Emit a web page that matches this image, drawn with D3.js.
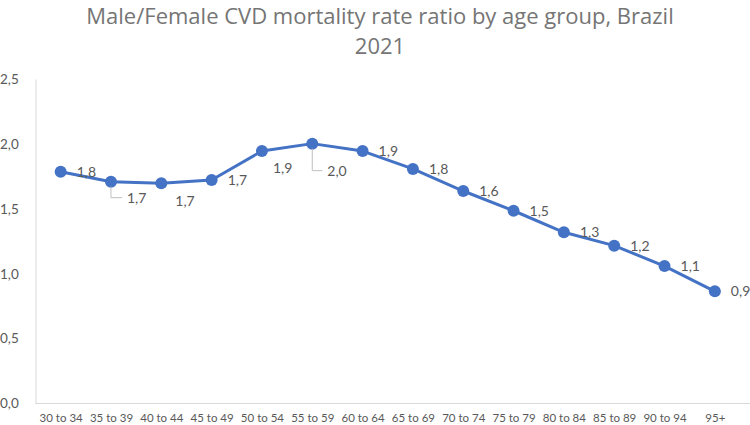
<!DOCTYPE html>
<html><head><meta charset="utf-8">
<script src="https://cdn.jsdelivr.net/npm/d3@7"></script>
<style>body{margin:0;background:#fff;} svg{display:block;}</style>
</head><body>
<svg id="chart" width="750" height="425"></svg>
<script>
const categories = ["30 to 34","35 to 39","40 to 44","45 to 49","50 to 54","55 to 59","60 to 64","65 to 69","70 to 74","75 to 79","80 to 84","85 to 89","90 to 94","95+"];
const ratios = [1.786,1.709,1.696,1.722,1.945,2.002,1.945,1.807,1.637,1.485,1.319,1.216,1.059,0.864];
const yTicks = [0,0.5,1.0,1.5,2.0,2.5];
const titleLines = ["Male/Female CVD mortality rate ratio by age group, Brazil","2021"];
// label placement offsets (style, not data)
const labelOffsets = [[16,0],[16,16],[14,18],[16,0],[11,17],[15,27],[16,0],[16,0],[16,0],[16,0],[16,0],[16,0],[16,0],[16,0]];
const leaders = {1:true,5:true};

const svg = d3.select("#chart");
const font = "Lato, 'Open Sans', sans-serif";
const x = d3.scalePoint().domain(categories).range([35.5,740]).padding(0.5);
const y = d3.scaleLinear().domain([0,2.5]).range([403.5,79]);
const fmt = v => d3.format(".1f")(v).replace(".", ",");

svg.append("g").selectAll("text").data(titleLines).join("text")
  .attr("x",380).attr("y",(d,i)=>24+i*30)
  .attr("text-anchor","middle").attr("font-family","'Open Sans', sans-serif").attr("font-size",22)
  .attr("fill","#757575").text(d=>d);

// axes
const yAxis = svg.append("g").attr("transform","translate(35.5,0)")
  .call(d3.axisLeft(y).tickValues(yTicks).tickSize(0).tickPadding(16).tickFormat(fmt));
yAxis.select(".domain").attr("stroke","#d9d9d9");
yAxis.selectAll("text").attr("font-family",font).attr("font-size",13.5).attr("fill","#595959").attr("text-anchor","start").attr("x",-35.5);

const xAxis = svg.append("g").attr("transform","translate(0,403.5)")
  .call(d3.axisBottom(x).tickSize(0).tickPadding(10));
xAxis.select(".domain").attr("stroke","#d9d9d9").attr("d","M35.5,0H750");
xAxis.selectAll("text").attr("font-family",font).attr("font-size",11.5).attr("fill","#595959");

const data = categories.map((c,i)=>({c, v: ratios[i], i}));
const line = d3.line().x(d=>x(d.c)).y(d=>y(d.v));
svg.append("path").datum(data).attr("d",line).attr("fill","none")
  .attr("stroke","#4472C4").attr("stroke-width",3).attr("stroke-linejoin","round");
svg.append("g").selectAll("circle").data(data).join("circle")
  .attr("cx",d=>x(d.c)).attr("cy",d=>y(d.v)).attr("r",6).attr("fill","#4472C4");

// leader lines
svg.append("g").selectAll("path").data(data.filter(d=>leaders[d.i])).join("path")
  .attr("d",d=>{const px=x(d.c), py=y(d.v); const o=labelOffsets[d.i];
    return `M${px},${py+5}V${py+o[1]}H${px+o[0]-5}`;})
  .attr("fill","none").attr("stroke","#bfbfbf").attr("stroke-width",1);

svg.append("g").selectAll("text").data(data).join("text")
  .attr("x",d=>x(d.c)+labelOffsets[d.i][0]).attr("y",d=>y(d.v)+labelOffsets[d.i][1])
  .attr("dy","0.35em").attr("font-family",font).attr("font-size",14).attr("fill","#595959")
  .text(d=>fmt(d.v));
</script>
</body></html>
